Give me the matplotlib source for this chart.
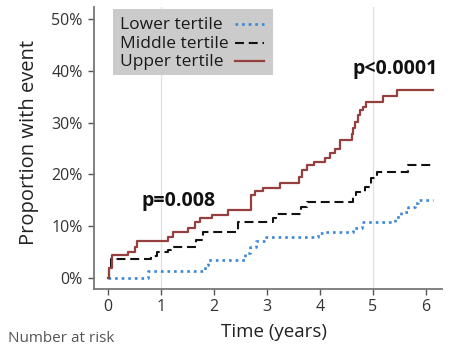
import matplotlib
matplotlib.use("Agg")
import matplotlib.pyplot as plt
from matplotlib.lines import Line2D
from matplotlib.patches import Rectangle

# Cumulative proportion with event (%) over follow-up time (years), by tertile
lower_t = [0, 0.76, 1.83, 1.89, 2.58, 2.68, 2.80, 2.99, 3.97, 4.06, 4.63, 4.79,
           5.42, 5.54, 5.67, 5.79, 5.86, 6.14]
lower_v = [0, 1.2, 2.5, 3.4, 4.7, 6.0, 7.0, 7.9, 8.6, 8.9, 9.6, 10.8,
           11.8, 12.8, 13.7, 14.4, 15.0, 15.0]

middle_t = [0, 0.03, 0.07, 0.82, 0.92, 1.13, 1.20, 1.67, 1.80, 2.45, 3.12, 3.18,
            3.65, 3.75, 4.63, 4.69, 4.85, 4.97, 5.07, 5.67, 6.14]
middle_v = [0, 1.5, 3.6, 4.2, 5.0, 5.4, 6.0, 7.3, 8.8, 10.8, 11.5, 12.4,
            13.7, 14.7, 16.0, 16.6, 17.6, 19.3, 20.5, 21.8, 21.8]

upper_t = [0, 0.02, 0.08, 0.38, 0.51, 0.55, 1.14, 1.23, 1.52, 1.64, 1.74, 1.96,
           2.26, 2.70, 2.77, 2.93, 3.25, 3.60, 3.66, 3.75, 3.90, 4.09, 4.19,
           4.28, 4.38, 4.60, 4.63, 4.66, 4.72, 4.75, 4.82, 4.88, 5.19, 5.45, 6.14]
upper_v = [0, 1.9, 4.4, 5.0, 6.0, 7.0, 7.9, 8.9, 9.6, 10.8, 11.5, 12.2,
           13.0, 16.0, 16.7, 17.3, 18.4, 19.5, 20.8, 21.8, 22.3, 23.1, 24.1,
           25.0, 26.6, 27.9, 28.9, 30.2, 31.5, 32.4, 33.1, 34.0, 35.1, 36.3, 36.3]

series_labels = ["Lower tertile", "Middle tertile", "Upper tertile"]
p_labels = ["p=0.008", "p<0.0001"]
x_ticks = [0, 1, 2, 3, 4, 5, 6]
y_ticks = [0, 10, 20, 30, 40, 50]
y_tick_labels = ["0%", "10%", "20%", "30%", "40%", "50%"]

plt.rcParams["font.family"] = ["Open Sans", "DejaVu Sans"]

W, H = 457, 345


def fx(px):
    return px / W


def fy(py):
    return 1 - py / H


styles = [
    dict(color="#3b86d6", lw=1.9, linestyle=(0, (1.0, 1.5)), dash_capstyle="butt"),
    dict(color="#111111", lw=1.5, linestyle=(0, (4.3, 2.3)), dash_capstyle="butt"),
    dict(color="#963f3f", lw=1.6, linestyle="-"),
]

fig = plt.figure(figsize=(W / 100, H / 100), dpi=100)
ax = fig.add_axes([fx(94), fy(289), fx(441.7) - fx(94), fy(7) - fy(289)])

for (t, v), st, lab in zip([(lower_t, lower_v), (middle_t, middle_v), (upper_t, upper_v)],
                           styles, series_labels):
    ax.step(t, v, where="post", label=lab, **st)

for gx in (1, 5):
    ax.axvline(gx, color="#e0e0e0", lw=0.9, zorder=0)

ax.set_xlim(-0.26, 6.3)
ax.set_ylim(-2.2, 52.4)
ax.set_xticks(x_ticks)
ax.set_yticks(y_ticks)
ax.set_yticklabels(y_tick_labels)
ax.tick_params(labelsize=11.5, labelcolor="#333333", color="#555555",
               length=4.2, width=1)
ax.tick_params(axis="y", pad=4)
ax.tick_params(axis="x", pad=3.2)

for side in ("top", "right"):
    ax.spines[side].set_visible(False)
for side in ("left", "bottom"):
    ax.spines[side].set_color("#777777")
    ax.spines[side].set_linewidth(1.3)

ax.set_xlabel("Time (years)", fontsize=13.5, color="#222222")
ax.xaxis.label.set_va("baseline")
ax.xaxis.set_label_coords(0.519, (289 - 337) / 282)
ax.set_ylabel("Proportion with event", fontsize=14.5, color="#222222")
ax.yaxis.label.set_va("center")
ax.yaxis.set_label_coords((29 - 94) / 347.7, (289 - 142.5) / 282)

# Legend: grey box, labels on the left, line samples on the right
fig.add_artist(Rectangle((fx(113), fy(75)), fx(273) - fx(113), fy(9.3) - fy(75),
                         transform=fig.transFigure, facecolor="#cbcbcb",
                         edgecolor="none", zorder=5))
baselines = [29, 47.5, 66]
sample_y = [24, 42.7, 61]
for lab, base, sy, st in zip(series_labels, baselines, sample_y, styles):
    fig.text(fx(120), fy(base), lab, fontsize=12.5, color="#1a1a1a",
             ha="left", va="baseline", zorder=6)
    fig.add_artist(Line2D([fx(235), fx(263.5)], [fy(sy), fy(sy)],
                          transform=fig.transFigure, zorder=6, **st))

pfont = dict(family=["Open Sans", "DejaVu Sans"], weight="bold",
             fontsize=14, color="#111111", ha="left", va="baseline")
fig.text(fx(141.5), fy(206), p_labels[0], **pfont)
fig.text(fx(352), fy(74), p_labels[1], **pfont)

fig.text(fx(8), fy(331), "Number at risk", fontsize=11, color="#555555",
         va="top", ha="left")

fig.savefig("out.png", dpi=100)
